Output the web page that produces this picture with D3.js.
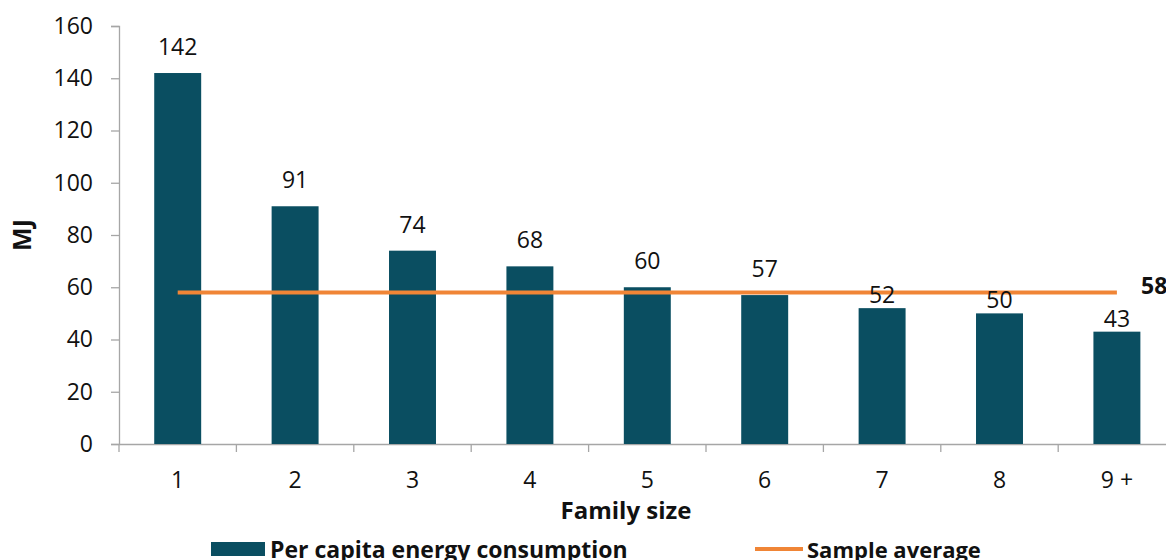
<!DOCTYPE html>
<html>
<head>
<meta charset="utf-8">
<script src="https://cdn.jsdelivr.net/npm/d3@7"></script>
<style>
  html, body { margin: 0; padding: 0; background: #fff; }
  svg { display: block; font-family: "Open Sans", Lato, sans-serif; }
</style>
</head>
<body>
<svg id="chart" width="1166" height="560"></svg>
<script>
const categories = ["1", "2", "3", "4", "5", "6", "7", "8", "9 +"];
const perCapita = [142, 91, 74, 68, 60, 57, 52, 50, 43];
const sampleAverage = 58;
const yTicks = [0, 20, 40, 60, 80, 100, 120, 140, 160];
const seriesNames = ["Per capita energy consumption", "Sample average"];
const axisTitles = { x: "Family size", y: "MJ" };

const barColor = "#0A4E61";
const lineColor = "#F08536";
const axisColor = "#A6A6A6";
const FONT = "'Open Sans', Lato, sans-serif";

const svg = d3.select("#chart");

const x = d3.scaleBand().domain(categories).range([119, 1175.6]).padding(0);
const y = d3.scaleLinear().domain([0, 160]).range([444, 26]);

// Y axis
const yAxis = svg.append("g").attr("transform", "translate(119,0)")
  .call(d3.axisLeft(y).tickValues(yTicks).tickSize(8).tickPadding(18).tickFormat(d3.format("d")));
yAxis.select(".domain").attr("stroke", axisColor).attr("stroke-width", 1.3);
yAxis.selectAll(".tick line").attr("stroke", axisColor).attr("stroke-width", 1.3);
yAxis.selectAll(".tick text").attr("font-size", 23).attr("fill", "#111").attr("font-family", FONT);

// X axis
const xAxis = svg.append("g").attr("transform", "translate(0,444)")
  .call(d3.axisBottom(x).tickSize(0).tickPadding(28));
xAxis.select(".domain").attr("stroke", axisColor).attr("stroke-width", 1.3);
xAxis.selectAll(".tick text").attr("font-size", 23).attr("fill", "#111").attr("font-family", FONT);
// boundary tick marks between categories
xAxis.selectAll(".bound").data(d3.range(categories.length + 1)).enter().append("line")
  .attr("class", "bound")
  .attr("x1", i => x.range()[0] + i * x.step()).attr("x2", i => x.range()[0] + i * x.step())
  .attr("y1", 0).attr("y2", 8)
  .attr("stroke", axisColor).attr("stroke-width", 1.3);

// Bars
const barW = x.bandwidth() * 0.4;
svg.append("g").selectAll("rect").data(perCapita).enter().append("rect")
  .attr("x", (d, i) => x(categories[i]) + x.bandwidth() / 2 - barW / 2)
  .attr("y", d => y(d))
  .attr("width", barW)
  .attr("height", d => y(0) - y(d))
  .attr("fill", barColor);

// Average line
const cx = c => x(c) + x.bandwidth() / 2;
svg.append("line")
  .attr("x1", cx(categories[0])).attr("x2", cx(categories[categories.length - 1]))
  .attr("y1", y(sampleAverage)).attr("y2", y(sampleAverage))
  .attr("stroke", lineColor).attr("stroke-width", 4);

// Bar labels (labels of bars well below the average sit closer to the bar)
svg.append("g").selectAll("text").data(perCapita).enter().append("text")
  .attr("x", (d, i) => cx(categories[i]))
  .attr("y", d => y(d) - (d < sampleAverage - 3 ? 5 : 18))
  .attr("text-anchor", "middle")
  .attr("font-size", 23)
  .attr("fill", "#111")
  .text(d => d);

// Average label
svg.append("text")
  .attr("x", 1141).attr("y", y(sampleAverage) + 2)
  .attr("font-size", 23).attr("font-weight", "bold").attr("fill", "#111")
  .text(sampleAverage);

// Axis titles
svg.append("text")
  .attr("x", 626).attr("y", 519)
  .attr("text-anchor", "middle").attr("font-size", 24).attr("font-weight", "bold").attr("fill", "#111")
  .text(axisTitles.x);
svg.append("text")
  .attr("transform", "translate(31,235) rotate(-90)")
  .attr("text-anchor", "middle").attr("font-size", 25).attr("font-weight", "bold").attr("fill", "#111")
  .text(axisTitles.y);

// Legend
svg.append("rect").attr("x", 211).attr("y", 542).attr("width", 54).attr("height", 14).attr("fill", barColor);
svg.append("text").attr("x", 270).attr("y", 558)
  .attr("font-size", 23).attr("font-weight", "bold").attr("fill", "#111").text(seriesNames[0]);
svg.append("line").attr("x1", 755).attr("x2", 803).attr("y1", 549).attr("y2", 549)
  .attr("stroke", lineColor).attr("stroke-width", 4);
svg.append("text").attr("x", 807).attr("y", 558)
  .attr("font-size", 22).attr("font-weight", "bold").attr("fill", "#111").text(seriesNames[1]);
</script>
</body>
</html>
